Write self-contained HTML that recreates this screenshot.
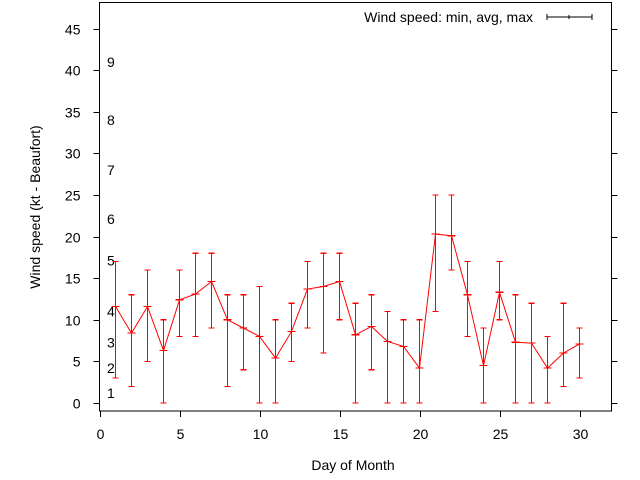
<!DOCTYPE html>
<html><head><meta charset="utf-8"><style>
body{margin:0;background:#fff}
svg{display:block;font-family:"Liberation Sans",sans-serif}
</style></head><body>
<svg id="c" width="640" height="480">
<g id="axes"></g>
<g id="bft"></g>
<g id="series"></g>
<text x="0" y="0" font-size="14" text-anchor="middle" transform="translate(40 207) rotate(-90)">Wind speed (kt - Beaufort)</text>
<text x="353" y="470" font-size="14" text-anchor="middle">Day of Month</text>
<g>
<text x="533" y="22" font-size="14" text-anchor="end">Wind speed: min, avg, max</text>
<line x1="547" y1="17" x2="592" y2="17" stroke="#000"/>
<line x1="547" y1="14" x2="547" y2="20" stroke="#000"/>
<line x1="592" y1="14" x2="592" y2="20" stroke="#000"/>
<line x1="569" y1="15" x2="569" y2="19" stroke="#000"/>
</g>
</svg>
<script>
const days=[1,2,3,4,5,6,7,8,9,10,11,12,13,14,15,16,17,18,19,20,21,22,23,24,25,26,27,28,29,30];
const avgVals=[11.6,8.4,11.6,6.3,12.4,13.1,14.6,10,9,8,5.4,8.6,13.7,14,14.6,8.2,9.2,7.4,6.8,4.2,20.3,20.1,13,4.5,13.3,7.3,7.2,4.2,6,7.1];
const minVals=[3,2,5,0,8,8,9,2,4,0,0,5,9,6,10,0,4,0,0,0,11,16,8,0,10,0,0,0,2,3];
const maxVals=[17,13,16,10,16,18,18,13,13,14,10,12,17,18,18,12,13,11,10,10,25,25,17,9,17,13,12,8,12,9];
const yTicks=[0,5,10,15,20,25,30,35,40,45];
const xTicks=[0,5,10,15,20,25,30];
const bftLabels=["1","2","3","4","5","6","7","8","9"];
const bftVals=[1.2,4.2,7.3,11,17.1,22.1,28,34,41];
const L=99.5,R=611.5,T=2.5,B=411;
const X=d=>99.5+16*d;
const Y=v=>403-8.32*v;
const NS="http://www.w3.org/2000/svg";
function mk(p,t,a){const e=document.createElementNS(NS,t);for(const k in a)e.setAttribute(k,a[k]);p.appendChild(e);return e;}
const ax=document.getElementById('axes');
const fr=mk(ax,'rect',{x:L,y:T,width:R-L,height:B-T,fill:'none',stroke:'#000'});


yTicks.forEach(v=>{const y=Math.round(Y(v))+0.5;
mk(ax,'line',{x1:L-6,y1:y,x2:L,y2:y,stroke:'#000'});
mk(ax,'line',{x1:R,y1:y,x2:R+6,y2:y,stroke:'#000'});
const t=mk(ax,'text',{x:L-19,y:y+5,'font-size':14,'text-anchor':'end'});t.textContent=v;

});
xTicks.forEach(v=>{const x=Math.round(X(v))+0.5;
mk(ax,'line',{x1:x,y1:B,x2:x,y2:B+6,stroke:'#000'});
const t=mk(ax,'text',{x:x,y:439,'font-size':14,'text-anchor':'middle'});t.textContent=v;

});
const bg=document.getElementById('bft');
bftLabels.forEach((s,i)=>{const t=mk(bg,'text',{x:107,y:Y(bftVals[i])+5,'font-size':14});t.textContent=s;

});
const sg=document.getElementById('series');
const pl=mk(sg,'polyline',{points:days.map((d,i)=>X(d)+','+Y(avgVals[i])).join(' '),fill:'none',stroke:'#ff0000'});


const RED={stroke:'#ff0000','stroke-width':1.2,'shape-rendering':'crispEdges'};
function ln(g,x1,y1,x2,y2){return mk(g,'line',Object.assign({x1:x1,y1:y1,x2:x2,y2:y2},RED));}
days.forEach((d,i)=>{const x=X(d),g=mk(sg,'g',{});


ln(g,x,Y(minVals[i]),x,Y(maxVals[i]));
ln(g,x-3,Y(minVals[i]),x+3,Y(minVals[i]));
ln(g,x-3,Y(maxVals[i]),x+3,Y(maxVals[i]));
ln(g,x-4,Y(avgVals[i]),x+4,Y(avgVals[i]));});
</script>
</body></html>
